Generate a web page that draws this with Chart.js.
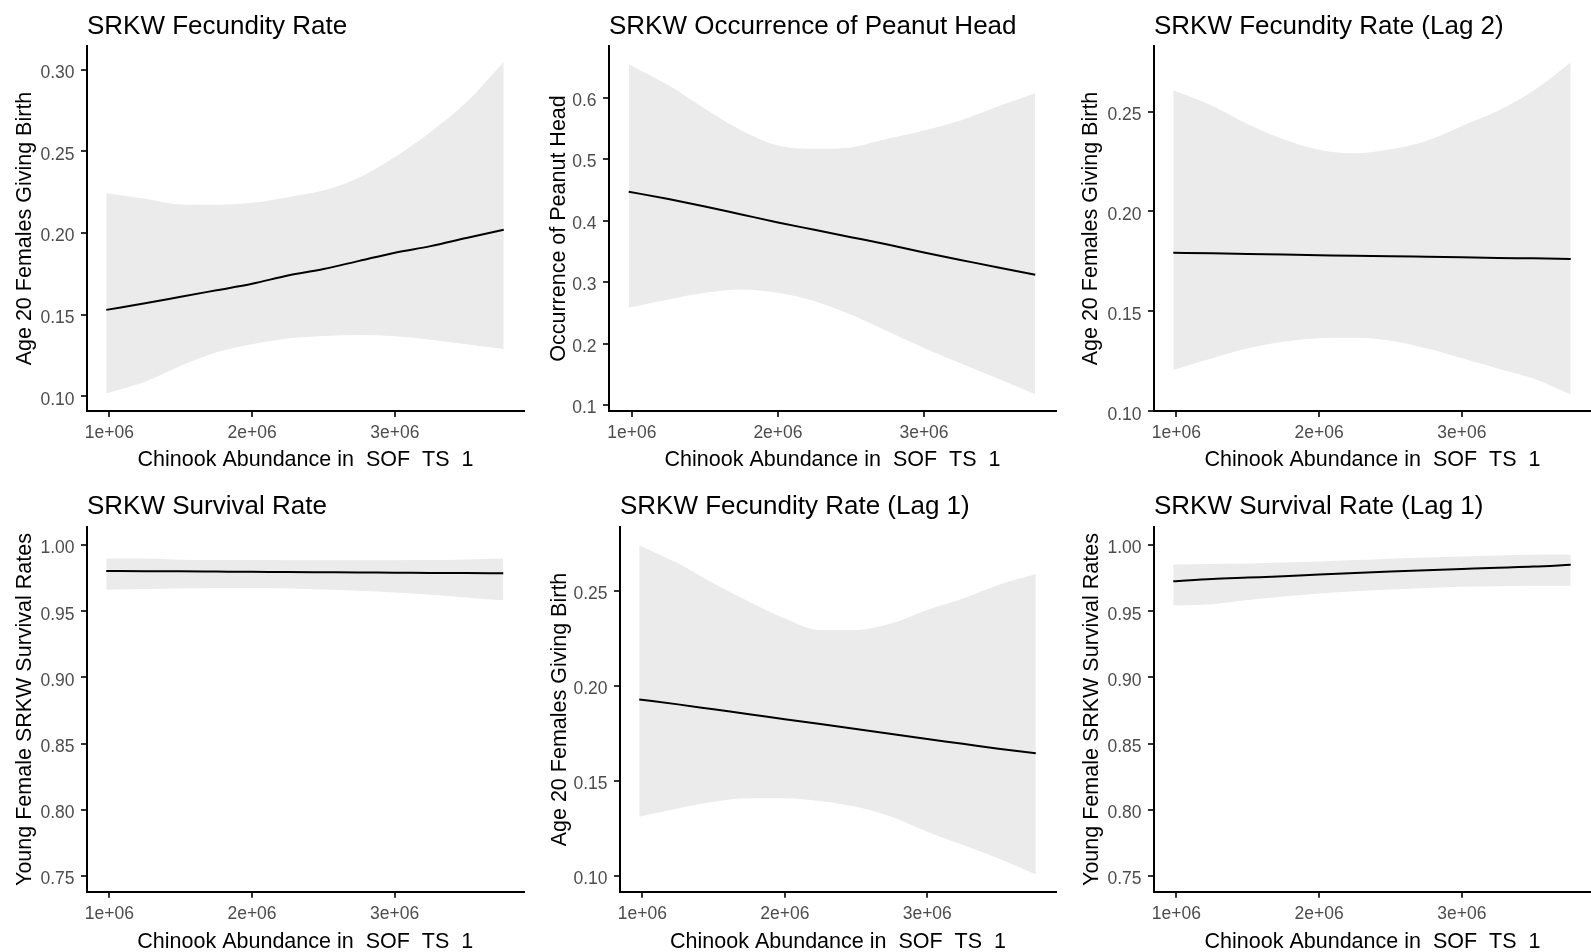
<!DOCTYPE html>
<html>
<head>
<meta charset="utf-8">
<script src="https://cdn.jsdelivr.net/npm/chart.js@4/dist/chart.umd.min.js"></script>
<style>
  html, body { margin: 0; padding: 0; background: #ffffff; }
  body { width: 1591px; height: 952px; position: relative; overflow: hidden; }
  canvas { position: absolute; }
</style>
</head>
<body>
<script>
// ---------- DATA ----------
const xValues = [0.978e6, 1.25e6, 1.5e6, 1.75e6, 2.0e6, 2.25e6, 2.5e6, 2.75e6, 3.0e6, 3.25e6, 3.5e6, 3.762e6];
const xTickValues = [1e6, 2e6, 3e6];
const xTickLabels = ['1e+06', '2e+06', '3e+06'];
const xRange = [0.843e6, 3.904e6];
const xTitle = 'Chinook Abundance in  SOF  TS  1';

const titles = ['SRKW Fecundity Rate', 'SRKW Occurrence of Peanut Head', 'SRKW Fecundity Rate (Lag 2)',
                'SRKW Survival Rate', 'SRKW Fecundity Rate (Lag 1)', 'SRKW Survival Rate (Lag 1)'];
const yTitles = ['Age 20 Females Giving Birth', 'Occurrence of Peanut Head', 'Age 20 Females Giving Birth',
                 'Young Female SRKW Survival Rates', 'Age 20 Females Giving Birth', 'Young Female SRKW Survival Rates'];

// Panel 1: SRKW Fecundity Rate
const fecFit   = [0.153, 0.157, 0.161, 0.165, 0.169, 0.174, 0.178, 0.183, 0.188, 0.192, 0.197, 0.202];
const fecUpper = [0.2244, 0.2210, 0.2175, 0.2173, 0.2185, 0.2220, 0.2260, 0.2340, 0.2465, 0.2618, 0.2800, 0.3047];
const fecLower = [0.1018, 0.1090, 0.1188, 0.1270, 0.1320, 0.1355, 0.1370, 0.1376, 0.1368, 0.1347, 0.1320, 0.1290];
const fecTicks = [0.10, 0.15, 0.20, 0.25, 0.30];
const fecRange = [0.0911, 0.3145];

// Panel 2: SRKW Occurrence of Peanut Head
const peanutFit   = [0.447, 0.435, 0.423, 0.410, 0.397, 0.385, 0.373, 0.361, 0.348, 0.336, 0.324, 0.312];
const peanutUpper = [0.6545, 0.620, 0.582, 0.5466, 0.522, 0.5167, 0.519, 0.533, 0.5466, 0.563, 0.585, 0.6076];
const peanutLower = [0.258, 0.2716, 0.2825, 0.288, 0.2825, 0.2688, 0.247, 0.2198, 0.1926, 0.168, 0.1436, 0.1174];
const peanutTicks = [0.1, 0.2, 0.3, 0.4, 0.5, 0.6];
const peanutRange = [0.0902, 0.684];

// Panel 3: SRKW Fecundity Rate (Lag 2)
const fecLag2Fit   = [0.1793, 0.1790, 0.1787, 0.1784, 0.1781, 0.1778, 0.1776, 0.1773, 0.1770, 0.1767, 0.1765, 0.1762];
const fecLag2Upper = [0.2607, 0.2529, 0.2436, 0.2361, 0.2308, 0.2291, 0.2311, 0.2353, 0.2428, 0.2503, 0.2604, 0.2746];
const fecLag2Lower = [0.1206, 0.1265, 0.1315, 0.1348, 0.1365, 0.1368, 0.1353, 0.1315, 0.1265, 0.1214, 0.1164, 0.1084];
const fecLag2Ticks = [0.10, 0.15, 0.20, 0.25];
const fecLag2Range = [0.1001, 0.2828];

// Panel 4: SRKW Survival Rate
const survFit   = [0.9805, 0.9803, 0.9802, 0.9800, 0.9798, 0.9797, 0.9795, 0.9793, 0.9792, 0.9790, 0.9789, 0.9787];
const survUpper = [0.9900, 0.9899, 0.9890, 0.9888, 0.9887, 0.9886, 0.9886, 0.9886, 0.9886, 0.9887, 0.9892, 0.9900];
const survLower = [0.9663, 0.9668, 0.9673, 0.9676, 0.9676, 0.9673, 0.9665, 0.9655, 0.9642, 0.9625, 0.9605, 0.9583];
const survTicks = [0.75, 0.80, 0.85, 0.90, 0.95, 1.00];
const survRange = [0.738, 1.0135];

// Panel 5: SRKW Fecundity Rate (Lag 1)
const fecLag1Fit   = [0.1929, 0.1903, 0.1877, 0.1851, 0.1825, 0.1799, 0.1773, 0.1747, 0.1721, 0.1695, 0.1669, 0.1645];
const fecLag1Upper = [0.2742, 0.2646, 0.2540, 0.2444, 0.2356, 0.2295, 0.2295, 0.2330, 0.2400, 0.2461, 0.2532, 0.2590];
const fecLag1Lower = [0.1311, 0.1355, 0.1390, 0.1408, 0.1408, 0.1393, 0.1364, 0.1311, 0.1232, 0.1162, 0.1091, 0.1007];
const fecLag1Ticks = [0.10, 0.15, 0.20, 0.25];
const fecLag1Range = [0.0916, 0.2836];

// Panel 6: SRKW Survival Rate (Lag 1)
const survLag1Fit   = [0.9727, 0.9745, 0.9755, 0.9765, 0.9778, 0.9790, 0.9800, 0.9810, 0.9820, 0.9830, 0.9838, 0.9852];
const survLag1Upper = [0.9854, 0.9857, 0.9862, 0.9868, 0.9876, 0.9887, 0.9897, 0.9906, 0.9914, 0.9922, 0.9927, 0.9929];
const survLag1Lower = [0.9543, 0.9553, 0.9585, 0.9612, 0.9635, 0.9652, 0.9664, 0.9676, 0.9686, 0.9690, 0.9693, 0.9694];
const survLag1Ticks = [0.75, 0.80, 0.85, 0.90, 0.95, 1.00];
const survLag1Range = [0.738, 1.0135];

// ---------- LAYOUT / STYLE ----------
const FONT = '"Liberation Sans", Arial, sans-serif';
const RIBBON = '#EBEBEB';
const TICK_TEXT = '#4D4D4D';
const Y_LABEL_SHIFT = 3.5;

const row1 = { top: 0, h: 470, xh: 59, tTop: 11.1, tBot: 3.7 };
const row2 = { top: 470, h: 482, xh: 60.3, tTop: 21.1, tBot: 5.0 };

const panels = [
  { i: 0, fit: fecFit, up: fecUpper, lo: fecLower, ticks: fecTicks, range: fecRange, dec: 2,
    left: 0, w: 530, row: row1, yw: 87, pr: 6, yTitlePad: 12.6 },
  { i: 1, fit: peanutFit, up: peanutUpper, lo: peanutLower, ticks: peanutTicks, range: peanutRange, dec: 1,
    left: 530, w: 530, row: row1, yw: 79, pr: 4, yTitlePad: 16.3 },
  { i: 2, fit: fecLag2Fit, up: fecLag2Upper, lo: fecLag2Lower, ticks: fecLag2Ticks, range: fecLag2Range, dec: 2,
    left: 1060, w: 531, row: row1, yw: 94, pr: 0, yTitlePad: 18.6 },
  { i: 3, fit: survFit, up: survUpper, lo: survLower, ticks: survTicks, range: survRange, dec: 2,
    left: 0, w: 530, row: row2, yw: 87, pr: 6.5, yTitlePad: 12.3 },
  { i: 4, fit: fecLag1Fit, up: fecLag1Upper, lo: fecLag1Lower, ticks: fecLag1Ticks, range: fecLag1Range, dec: 2,
    left: 530, w: 530, row: row2, yw: 90, pr: 4, yTitlePad: 17.2 },
  { i: 5, fit: survLag1Fit, up: survLag1Upper, lo: survLag1Lower, ticks: survLag1Ticks, range: survLag1Range, dec: 2,
    left: 1060, w: 531, row: row2, yw: 94, pr: 0, yTitlePad: 19.1 }
];

// nudges the y tick labels slightly below their ticks, as in the source figure
const yLabelNudge = {
  id: 'yLabelNudge',
  beforeDraw(chart) {
    const s = chart.scales.y;
    if (!s || !s.getLabelItems) return;
    s.getLabelItems().forEach(it => {
      if (!it._nudged) { it.textOffset = (it.textOffset || 0) + Y_LABEL_SHIFT; it._nudged = true; }
    });
  }
};

function pts(ys) { return xValues.map((x, k) => ({ x: x, y: ys[k] })); }

panels.forEach(p => {
  const r = p.row;
  const cv = document.createElement('canvas');
  cv.width = p.w; cv.height = r.h;
  cv.style.left = p.left + 'px'; cv.style.top = r.top + 'px';
  cv.style.width = p.w + 'px'; cv.style.height = r.h + 'px';
  document.body.appendChild(cv);

  new Chart(cv.getContext('2d'), {
    type: 'line',
    plugins: [yLabelNudge],
    data: {
      datasets: [
        { data: pts(p.fit), borderColor: '#000000', borderWidth: 2, pointRadius: 0, fill: false,
          cubicInterpolationMode: 'monotone' },
        { data: pts(p.up), borderWidth: 0, borderColor: 'rgba(0,0,0,0)', pointRadius: 0,
          backgroundColor: RIBBON, fill: '+1', cubicInterpolationMode: 'monotone' },
        { data: pts(p.lo), borderWidth: 0, borderColor: 'rgba(0,0,0,0)', pointRadius: 0,
          fill: false, cubicInterpolationMode: 'monotone' }
      ]
    },
    options: {
      responsive: false,
      animation: false,
      events: [],
      layout: { padding: { left: 0, top: 0, right: p.pr, bottom: 0 } },
      plugins: {
        legend: { display: false },
        tooltip: { enabled: false },
        title: {
          display: true, text: titles[p.i], align: 'start', fullSize: false,
          color: '#000000', font: { family: FONT, size: 26, weight: 'normal', lineHeight: 1.2 },
          padding: { top: r.tTop, bottom: r.tBot }
        }
      },
      scales: {
        x: {
          type: 'linear', min: xRange[0], max: xRange[1],
          afterBuildTicks: s => { s.ticks = xTickValues.map(v => ({ value: v })); },
          afterFit: s => { s.height = r.xh; },
          grid: { drawOnChartArea: false, drawTicks: true, tickLength: 6, tickColor: '#333333', lineWidth: 2 },
          border: { display: true, color: '#000000', width: 2 },
          ticks: {
            color: TICK_TEXT, padding: 6, maxRotation: 0, autoSkip: false,
            font: { family: FONT, size: 17.5 },
            callback: v => xTickLabels[xTickValues.indexOf(v)]
          },
          title: {
            display: true, text: xTitle, color: '#000000',
            font: { family: FONT, size: 21.5, lineHeight: 1.2 }, padding: { top: 0, bottom: -2.5 }
          }
        },
        y: {
          type: 'linear', min: p.range[0], max: p.range[1],
          afterBuildTicks: s => { s.ticks = p.ticks.map(v => ({ value: v })); },
          afterFit: s => { s.width = p.yw; },
          grid: { drawOnChartArea: false, drawTicks: true, tickLength: 6, tickColor: '#333333', lineWidth: 2 },
          border: { display: true, color: '#000000', width: 2 },
          ticks: {
            color: TICK_TEXT, padding: 6.5, autoSkip: false,
            font: { family: FONT, size: 17.5 },
            callback: v => Number(v).toFixed(p.dec)
          },
          title: {
            display: true, text: yTitles[p.i], color: '#000000',
            font: { family: FONT, size: 21.5, lineHeight: 1.2 }, padding: { top: p.yTitlePad, bottom: 0 }
          }
        }
      }
    }
  });
});
</script>
</body>
</html>
